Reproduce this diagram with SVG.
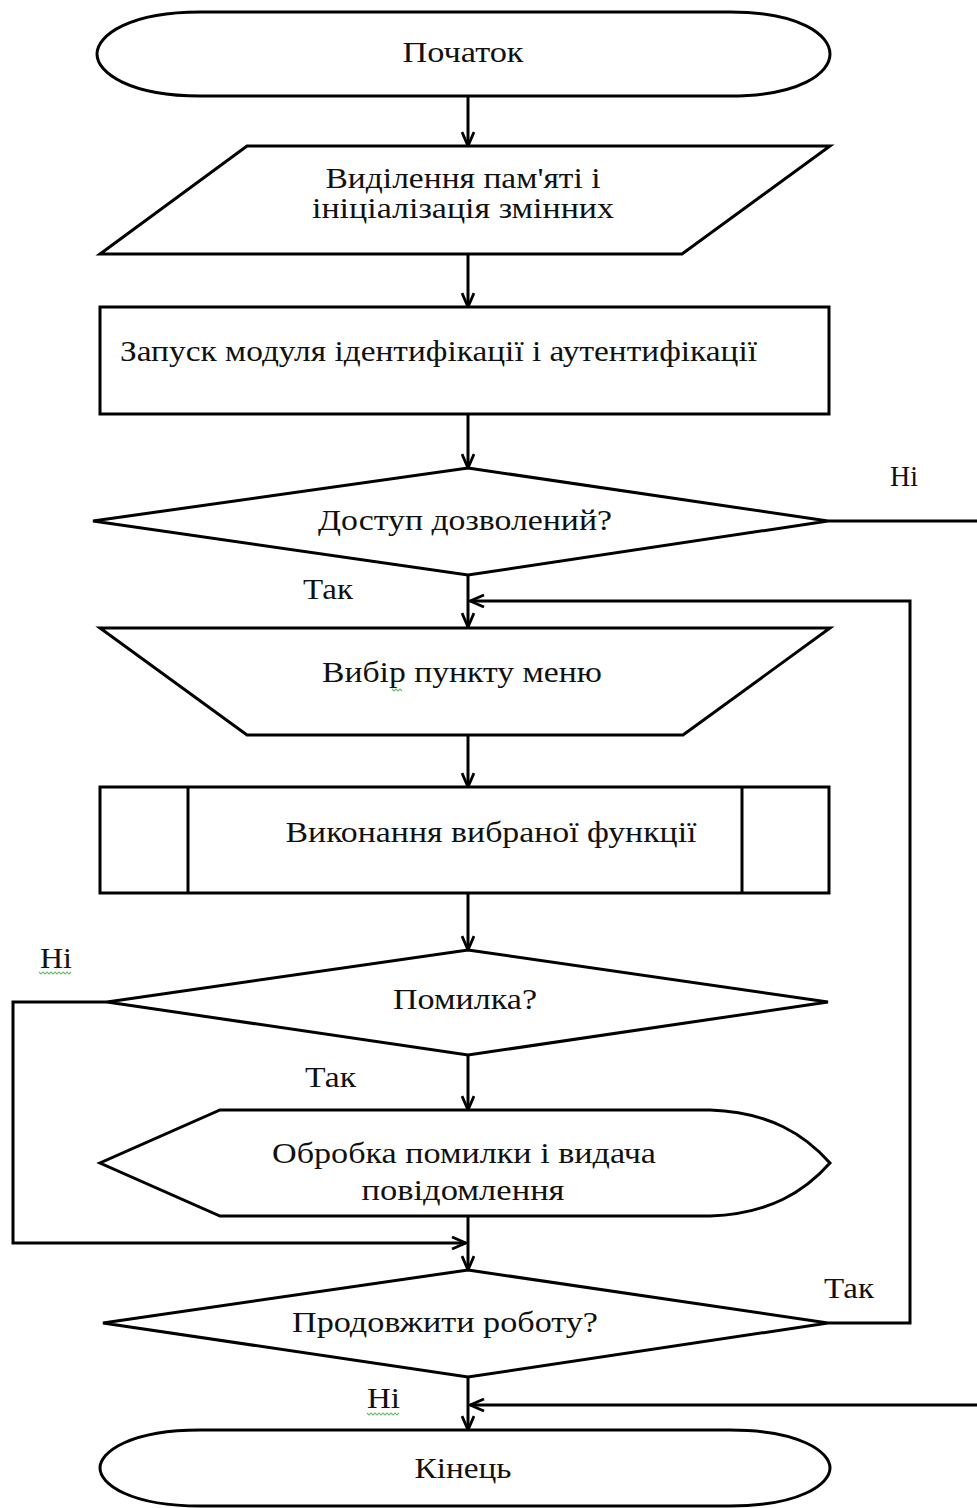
<svg xmlns="http://www.w3.org/2000/svg" width="977" height="1508" viewBox="0 0 977 1508">
<style>
  .shape { fill: #ffffff; stroke: #000000; stroke-width: 3; stroke-linejoin: miter; }
  .line { fill: none; stroke: #000000; stroke-width: 3; }
  .t { font-family: "Liberation Serif", "Times New Roman", serif; font-size: 30px; fill: #111111; }
  .c { text-anchor: middle; }
  .wave { fill: none; stroke: #6fbf6f; stroke-width: 1.2; }
</style>
<defs>
  <marker id="arr" viewBox="0 0 16 14" refX="15" refY="7" markerWidth="16" markerHeight="14" markerUnits="userSpaceOnUse" orient="auto">
    <path d="M1,1 L15,7 L1,13" fill="none" stroke="#000" stroke-width="2.8"/>
  </marker>
</defs>
<rect width="977" height="1508" fill="#ffffff"/>

<g id="connectors">
  <path class="line" d="M468,96 V146" marker-end="url(#arr)"/>
  <path class="line" d="M468,254 V307" marker-end="url(#arr)"/>
  <path class="line" d="M468,414 V468" marker-end="url(#arr)"/>
  <path class="line" d="M468,575 V627" marker-end="url(#arr)"/>
  <path class="line" d="M828,1323 H910 V601 H470" marker-end="url(#arr)"/>
  <path class="line" d="M828,521 H995 V1405 H470" marker-end="url(#arr)"/>
  <path class="line" d="M468,735 V787" marker-end="url(#arr)"/>
  <path class="line" d="M468,893 V950" marker-end="url(#arr)"/>
  <path class="line" d="M468,1055 V1110" marker-end="url(#arr)"/>
  <path class="line" d="M107,1002 H13 V1243 H466" marker-end="url(#arr)"/>
  <path class="line" d="M468,1216 V1270" marker-end="url(#arr)"/>
  <path class="line" d="M468,1377 V1430" marker-end="url(#arr)"/>
</g>

<g id="start">
  <path class="shape" d="M200,12 H730 C800,12 830,35 830,54 C830,73 800,96 730,96 H200 C130,96 97,73 97,54 C97,35 130,12 200,12 Z"/>
  <text class="t c" x="463" y="62" textLength="121" lengthAdjust="spacingAndGlyphs">Початок</text>
</g>

<g id="init">
  <polygon class="shape" points="247,146 830,146 682,254 100,254"/>
  <text class="t c" x="463" y="188" textLength="275" lengthAdjust="spacingAndGlyphs">Виділення пам'яті і</text>
  <text class="t c" x="463" y="218" textLength="302" lengthAdjust="spacingAndGlyphs">ініціалізація змінних</text>
</g>

<g id="auth">
  <rect class="shape" x="100" y="307" width="729" height="107"/>
  <text class="t" x="120" y="361" textLength="637" lengthAdjust="spacingAndGlyphs">Запуск модуля ідентифікації і аутентифікації</text>
</g>

<g id="access">
  <polygon class="shape" points="468,468 828,521 468,575 93,521"/>
  <text class="t c" x="465" y="530" textLength="294" lengthAdjust="spacingAndGlyphs">Доступ дозволений?</text>
  <text class="t" x="890" y="486" textLength="28" lengthAdjust="spacingAndGlyphs">Ні</text>
  <text class="t" x="303" y="599" textLength="50" lengthAdjust="spacingAndGlyphs">Так</text>
</g>

<g id="menu">
  <polygon class="shape" points="100,628 830,628 683,735 247,735"/>
  <text class="t c" x="462" y="682" textLength="280" lengthAdjust="spacingAndGlyphs">Вибір пункту меню</text>
  <path class="wave" d="M392,689 l2,2 l2,-2 l2,2 l2,-2 l2,2"/>
</g>

<g id="execute">
  <rect class="shape" x="100" y="787" width="729" height="106"/>
  <line class="line" x1="188" y1="787" x2="188" y2="893"/>
  <line class="line" x1="742" y1="787" x2="742" y2="893"/>
  <text class="t c" x="491" y="842" textLength="411" lengthAdjust="spacingAndGlyphs">Виконання вибраної функції</text>
</g>

<g id="error">
  <polygon class="shape" points="468,950 828,1002 468,1055 107,1002"/>
  <text class="t c" x="465" y="1009" textLength="144" lengthAdjust="spacingAndGlyphs">Помилка?</text>
  <text class="t" x="40" y="968" textLength="32" lengthAdjust="spacingAndGlyphs">Ні</text>
  <path class="wave" d="M39,972 l2,2 l2,-2 l2,2 l2,-2 l2,2 l2,-2 l2,2 l2,-2 l2,2 l2,-2 l2,2 l2,-2 l2,2 l2,-2 l2,2 l2,-2"/>
  <text class="t" x="305" y="1087" textLength="51" lengthAdjust="spacingAndGlyphs">Так</text>
</g>

<g id="handle">
  <path class="shape" d="M220,1110 H710 C770,1112 805,1135 830,1163 C805,1191 770,1214 710,1216 H220 L100,1163 Z"/>
  <text class="t c" x="464" y="1163" textLength="384" lengthAdjust="spacingAndGlyphs">Обробка помилки і видача</text>
  <text class="t c" x="463" y="1200" textLength="203" lengthAdjust="spacingAndGlyphs">повідомлення</text>
</g>

<g id="continue">
  <polygon class="shape" points="468,1270 828,1323 468,1377 103,1323"/>
  <text class="t c" x="445" y="1332" textLength="306" lengthAdjust="spacingAndGlyphs">Продовжити роботу?</text>
  <text class="t" x="824" y="1298" textLength="50" lengthAdjust="spacingAndGlyphs">Так</text>
  <text class="t" x="367" y="1408" textLength="33" lengthAdjust="spacingAndGlyphs">Ні</text>
  <path class="wave" d="M367,1413 l2,2 l2,-2 l2,2 l2,-2 l2,2 l2,-2 l2,2 l2,-2 l2,2 l2,-2 l2,2 l2,-2 l2,2 l2,-2 l2,2 l2,-2"/>
</g>

<g id="end">
  <path class="shape" d="M200,1430 H730 C800,1430 830,1452 830,1468 C830,1484 800,1506 730,1506 H200 C130,1506 100,1484 100,1468 C100,1452 130,1430 200,1430 Z"/>
  <text class="t c" x="463" y="1478" textLength="97" lengthAdjust="spacingAndGlyphs">Кінець</text>
</g>
</svg>
